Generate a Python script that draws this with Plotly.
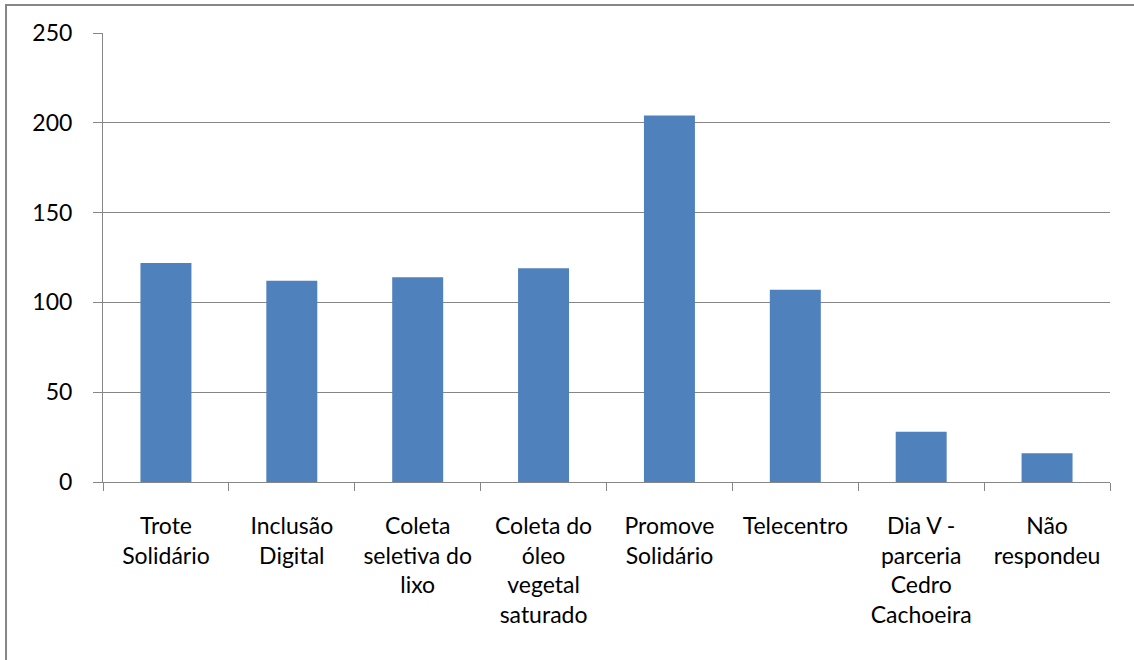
import plotly.graph_objects as go

# dados do gráfico
categorias = [
    "Trote<br>Solidário",
    "Inclusão<br>Digital",
    "Coleta<br>seletiva do<br>lixo",
    "Coleta do<br>óleo<br>vegetal<br>saturado",
    "Promove<br>Solidário",
    "Telecentro",
    "Dia V -<br>parceria<br>Cedro<br>Cachoeira",
    "Não<br>respondeu",
]
valores = [122, 112, 114, 119, 204, 107, 28, 16]
ticks_y = [0, 50, 100, 150, 200, 250]

COR_BARRA = "#4F81BD"
COR_EIXO = "#868686"
FONTE = dict(family="Lato, Carlito, Calibri, sans-serif", size=23, color="black")

fig = go.Figure(
    go.Bar(x=categorias, y=valores, marker=dict(color=COR_BARRA, line=dict(width=0)))
)

fig.update_layout(
    width=1134,
    height=660,
    margin=dict(l=103, r=24, t=33, b=178),
    plot_bgcolor="white",
    paper_bgcolor="white",
    bargap=0.595,
    showlegend=False,
    font=FONTE,
)

fig.update_yaxes(
    range=[0, 250],
    tickvals=ticks_y,
    showgrid=True,
    gridcolor=COR_EIXO,
    gridwidth=1,
    showline=True,
    linecolor=COR_EIXO,
    linewidth=1,
    ticks="outside",
    ticklen=9,
    tickcolor=COR_EIXO,
    zeroline=False,
    tickfont=FONTE,
    ticklabelstandoff=16,
    automargin=False,
)

fig.update_xaxes(
    showline=True,
    linecolor=COR_EIXO,
    linewidth=1,
    ticks="outside",
    tickson="boundaries",
    ticklen=8,
    tickcolor=COR_EIXO,
    tickangle=0,
    tickfont=FONTE,
    ticklabelstandoff=23,
    automargin=False,
)

# borda da área do gráfico
fig.add_shape(
    type="rect", xref="paper", yref="paper",
    x0=-0.0963, x1=1.2, y0=-0.6, y1=1.0624,
    line=dict(color=COR_EIXO, width=2), layer="below",
)

# sem margem da página, para o gráfico começar no canto
fig.write_html(
    "out.html",
    config={"displayModeBar": False},
    post_script="document.body.style.margin='0';",
)
